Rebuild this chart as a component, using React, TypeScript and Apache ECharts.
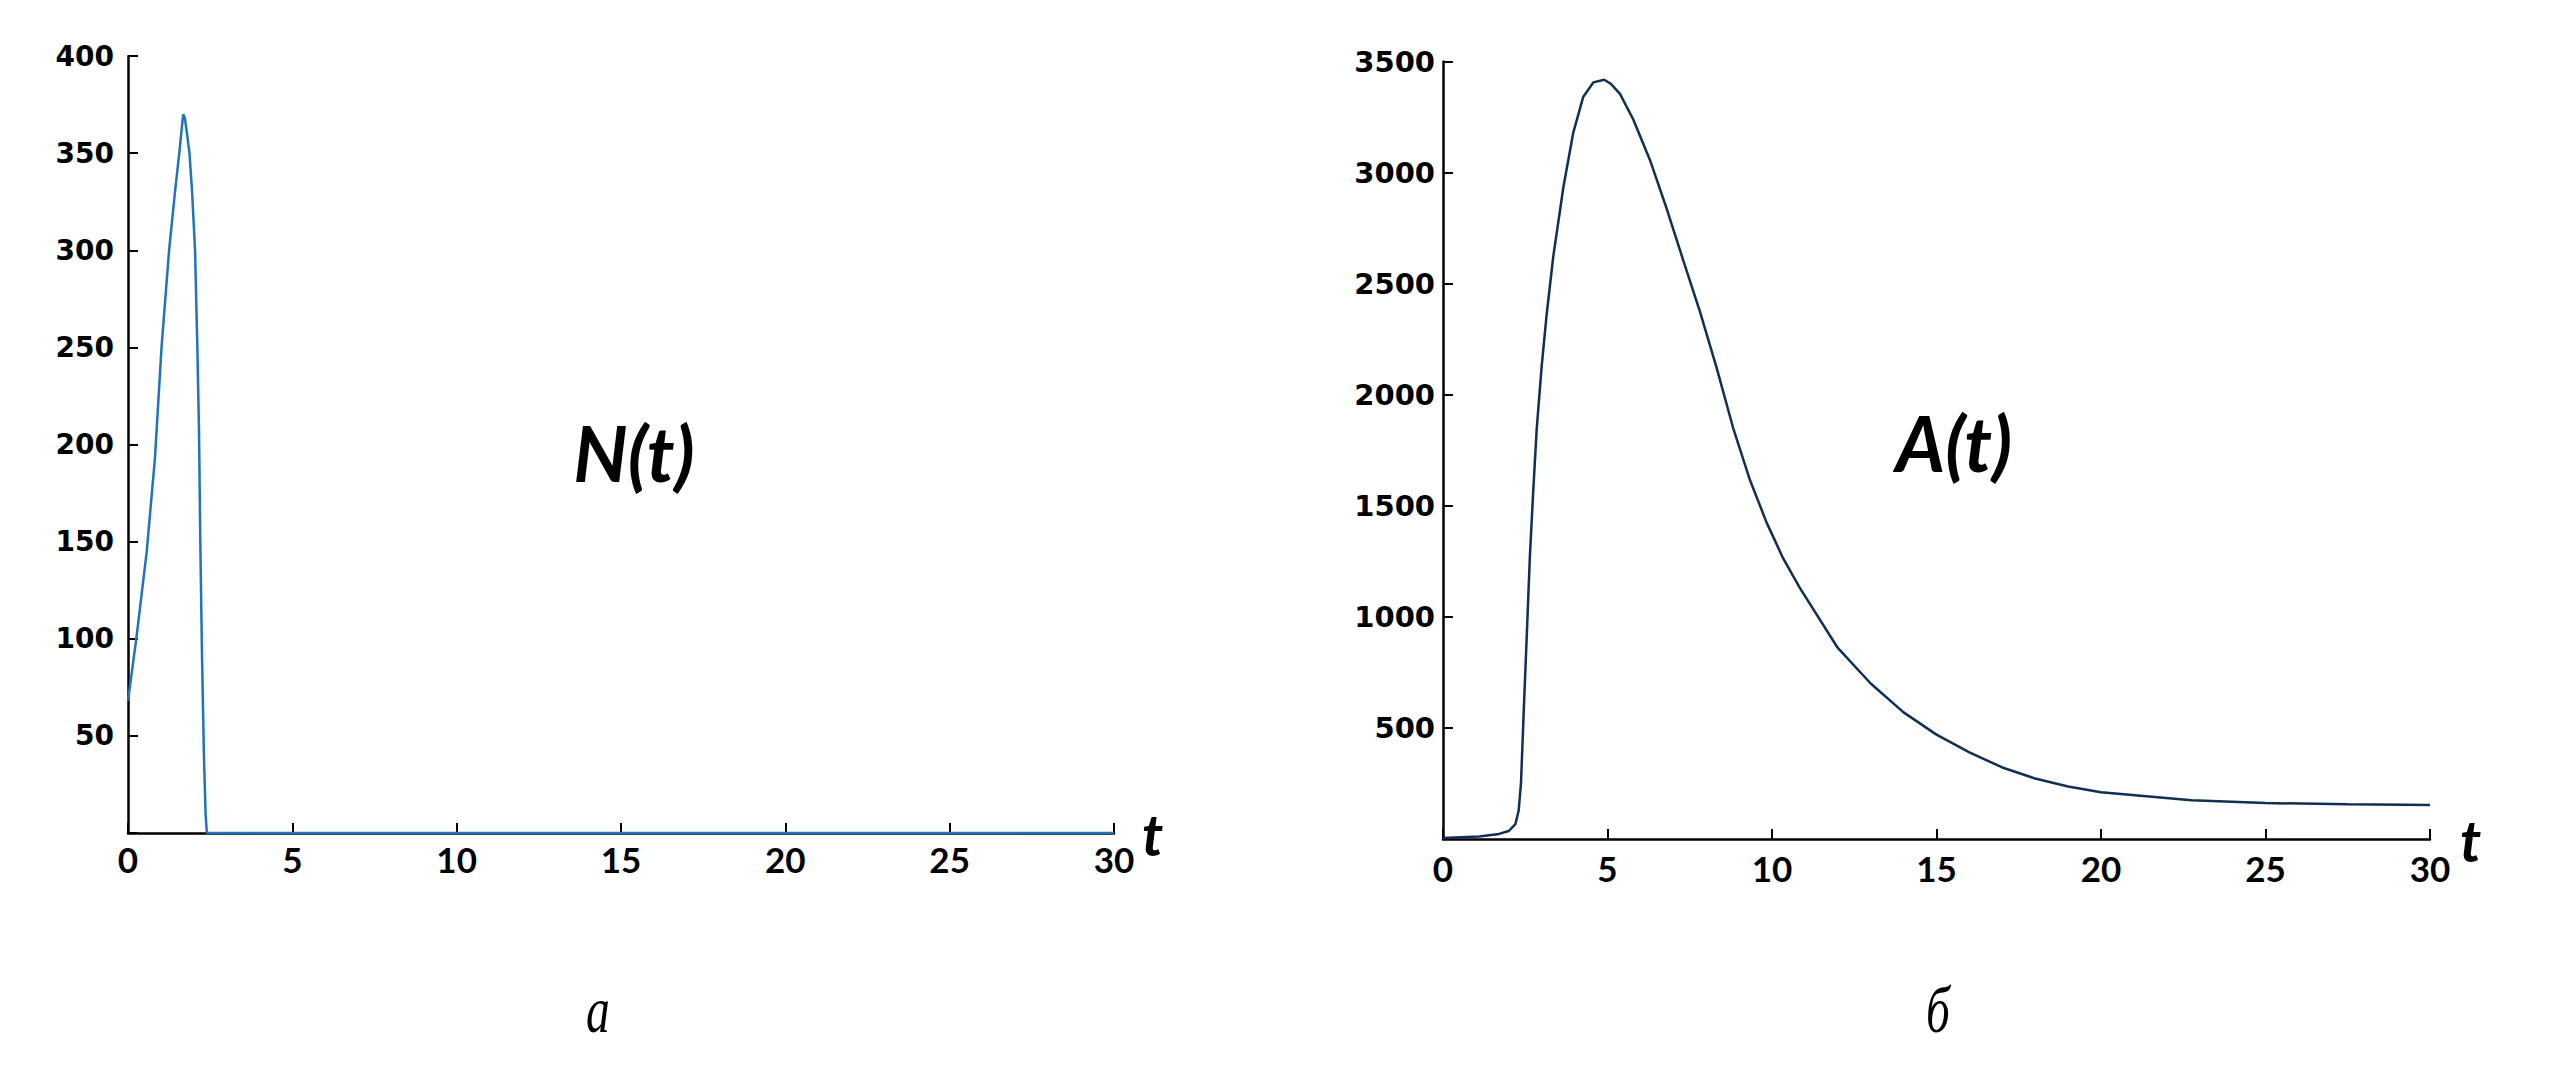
import React, { useEffect, useRef } from "react";
import * as echarts from "echarts";

// Left panel: N(t)
const tN = [0, 0.26, 0.57, 0.82, 1.02, 1.25, 1.43, 1.56, 1.63, 1.68, 1.73, 1.78, 1.87, 1.95, 2.04, 2.11, 2.16, 2.2, 2.25, 2.31, 2.36, 2.4, 5, 10, 15, 20, 25, 30];
const N = [68, 101, 145, 193, 250, 300, 330, 350, 362, 370, 368, 362, 350, 330, 300, 250, 207, 150, 93, 40, 10, 0, 0, 0, 0, 0, 0, 0];

// Right panel: A(t)
const tA = [0, 1.1, 1.7, 2.0, 2.2, 2.3, 2.37, 2.45, 2.55, 2.64, 2.74, 2.85, 3.0, 3.15, 3.35, 3.66, 3.96, 4.26, 4.57, 4.9, 5.1, 5.38, 5.78, 6.29, 6.8, 7.3, 7.81, 8.32, 8.82, 9.33, 9.84, 10.34, 10.85, 12, 13, 14, 15, 16, 17, 18, 19, 20, 22.75, 25, 27.5, 30];
const A = [5, 11, 23, 36, 67, 128, 250, 560, 930, 1270, 1560, 1850, 2130, 2360, 2620, 2935, 3180, 3340, 3406, 3418, 3400, 3354, 3240, 3057, 2837, 2606, 2374, 2120, 1850, 1616, 1423, 1263, 1129, 860, 700, 570, 470, 390, 322, 272, 236, 210, 174, 162, 156, 153];

const xTicks = [0, 5, 10, 15, 20, 25, 30];
const yTicksN = [50, 100, 150, 200, 250, 300, 350, 400];
const yTicksA = [500, 1000, 1500, 2000, 2500, 3000, 3500];

const panelTitles = ["N(t)", "A(t)"];
const panelLetters = ["а", "б"];
const axisName = "t";

export default function App() {
  const ref = useRef<HTMLDivElement>(null);
  useEffect(() => {
    if (!ref.current) return;
    const chart = echarts.init(ref.current, null, { renderer: "svg" });
    const xAxisCommon = (i: number) => ({
      gridIndex: i,
      type: "value",
      min: xTicks[0],
      max: xTicks[xTicks.length - 1],
      interval: 5,
      axisLine: { lineStyle: { color: "#000", width: 2.5 } },
      axisTick: { inside: true, length: 10, lineStyle: { color: "#000", width: 2 } },
      splitLine: { show: false },
      axisLabel: {
        color: "#000",
        fontFamily: "Lato",
        fontWeight: "bold",
        fontSize: 35,
        margin: i ? 11 : 8,
        formatter: (v: number) => (xTicks.includes(v) ? String(v) : ""),
      },
      name: axisName,
      nameLocation: "end",
      nameGap: i ? 30 : 28,
      nameTextStyle: {
        fontFamily: "Lato",
        fontStyle: "italic",
        fontWeight: "bold",
        fontSize: 58,
        color: "#000",
      },
    });
    const yAxisCommon = (i: number, ticks: number[]) => ({
      gridIndex: i,
      type: "value",
      min: 0,
      max: ticks[ticks.length - 1],
      interval: ticks[0],
      axisLine: { show: true, lineStyle: { color: "#000", width: 2.5 } },
      axisTick: { show: true, inside: true, length: 10, lineStyle: { color: "#000", width: 2 } },
      splitLine: { show: false },
      axisLabel: {
        color: "#000",
        fontFamily: "DejaVu Sans",
        fontWeight: "bold",
        fontSize: i ? 29 : 28,
        margin: i ? 8 : 14,
        formatter: (v: number) => (ticks.includes(v) ? String(v) : ""),
      },
    });
    const option: any = {
      animation: false,
      backgroundColor: "#fff",
      grid: [
        { left: 128, top: 56, width: 986, height: 777 },
        { left: 1443, top: 61.5, width: 987, height: 777.5 },
      ],
      xAxis: [xAxisCommon(0), xAxisCommon(1)],
      yAxis: [yAxisCommon(0, yTicksN), yAxisCommon(1, yTicksA)],
      series: [
        {
          type: "line",
          xAxisIndex: 0,
          yAxisIndex: 0,
          data: tN.map((t, i) => [t, N[i]]),
          showSymbol: false,
          smooth: false,
          lineStyle: { color: "#2173bd", width: 2.5 },
        },
        {
          type: "line",
          xAxisIndex: 1,
          yAxisIndex: 1,
          data: tA.map((t, i) => [t, A[i]]),
          showSymbol: false,
          smooth: false,
          lineStyle: { color: "#0f2f55", width: 2.5 },
        },
      ],
      graphic: [
        {
          type: "text",
          x: 634,
          y: 452,
          style: {
            text: panelTitles[0],
            fontFamily: "Lato",
            fontStyle: "italic",
            fontWeight: "bold",
            fontSize: 76,
            fill: "#000",
            align: "center",
            verticalAlign: "middle",
          },
        },
        {
          type: "text",
          x: 1954,
          y: 442,
          style: {
            text: panelTitles[1],
            fontFamily: "Lato",
            fontStyle: "italic",
            fontWeight: "bold",
            fontSize: 76,
            fill: "#000",
            align: "center",
            verticalAlign: "middle",
          },
        },
        {
          type: "text",
          x: 598,
          y: 1010,
          scaleX: 0.72,
          style: {
            text: panelLetters[0],
            fontFamily: "Liberation Serif",
            fontStyle: "italic",
            fontSize: 66,
            fill: "#000",
            align: "center",
            verticalAlign: "middle",
          },
        },
        {
          type: "text",
          x: 1938,
          y: 1010,
          scaleX: 0.72,
          style: {
            text: panelLetters[1],
            fontFamily: "Liberation Serif",
            fontStyle: "italic",
            fontSize: 66,
            fill: "#000",
            align: "center",
            verticalAlign: "middle",
          },
        },
      ],
    };
    chart.setOption(option);
    return () => chart.dispose();
  }, []);
  return (
    <div
      ref={ref}
      style={{ position: "fixed", left: 0, top: 0, width: 2568, height: 1090, background: "#fff" }}
    />
  );
}
